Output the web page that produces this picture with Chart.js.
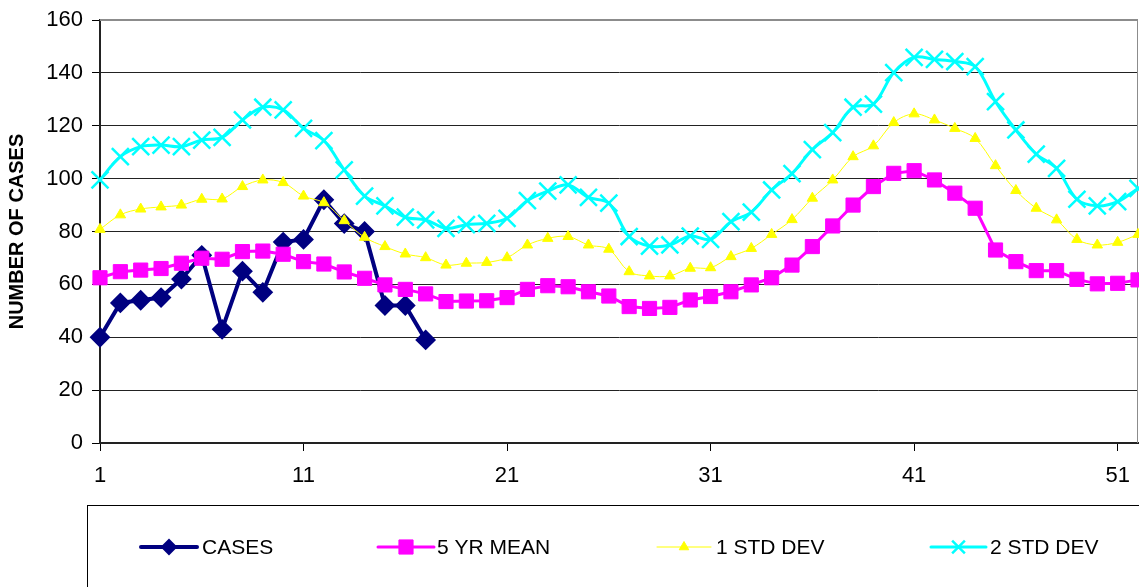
<!DOCTYPE html>
<html><head><meta charset="utf-8">
<script src="https://cdn.jsdelivr.net/npm/chart.js@4"></script>
<style>html,body{margin:0;padding:0;background:#fff;overflow:hidden}canvas{display:block}</style>
</head><body>
<canvas id="c" width="1139" height="587"></canvas>
<script>
// ---- data ----
const weeks = ['1','2','3','4','5','6','7','8','9','10','11','12','13','14','15','16','17','18','19','20',
  '21','22','23','24','25','26','27','28','29','30','31','32','33','34','35','36','37','38','39','40',
  '41','42','43','44','45','46','47','48','49','50','51','52'];
const cases = [40,53,54,55,62,71,43,65,57,76,77,92,83,80,52,52,39];
const mean5 = [62.5,64.8,65.4,66,68,69.9,69.5,72.4,72.6,71.4,68.6,67.7,64.7,62.3,59.8,58.1,56.4,53.5,53.7,53.8,
  55,58.1,59.5,59.1,57.2,55.6,51.6,50.9,51.3,54.1,55.4,57.2,59.8,62.5,67.3,74.3,82.1,90,97,102,
  103,99.5,94.5,88.8,73,68.6,65.2,65.2,61.9,60.2,60.4,61.7];
const std1 = [80.8,86.3,88.5,89.3,90,92.2,92.3,97,99.5,98.5,93.4,90.9,84.1,77.8,74.3,71.5,70.1,67.3,68,68.3,
  70.1,74.9,77.4,78.1,74.9,73.3,64.8,63.2,63.2,66.1,66.3,70.5,73.6,78.9,84.5,92.6,99.5,108.3,112.4,121.2,
  124.5,122.2,119,115.2,104.9,95.5,88.8,84.4,77,74.9,75.9,78.9];
const std2 = [99.5,108.3,112.1,112.7,112.1,114.6,115.6,122.2,127,126,119,114.4,103.3,93.4,89.7,85.4,84.4,81.2,82.6,83.1,
  85,91.7,95.3,97.6,92.9,90.7,78.1,74.5,74.9,78.3,77,83.7,87.3,95.7,101.9,111,117.4,127,128.2,140.1,
  145.9,145.1,144.3,142.4,129.1,118.4,109.3,103.9,92.2,89.7,91.3,96.3];
const seriesNames = ['CASES','5 YR MEAN','1 STD DEV','2 STD DEV'];
const yMin = 0, yMax = 160, yStep = 20;
const xLabelEvery = 10;
const yTitle = 'NUMBER OF CASES';

const FONT = "'Liberation Sans', Arial, sans-serif";

function drawMarker(ctx, style, r, x, y, bw) {
  if (Chart.helpers && Chart.helpers.drawPoint) {
    Chart.helpers.drawPoint(ctx, {pointStyle: style, radius: r, borderWidth: bw, rotation: 0}, x, y);
    return;
  }
  ctx.beginPath();
  if (style === 'rectRot') { ctx.moveTo(x, y - r); ctx.lineTo(x + r, y); ctx.lineTo(x, y + r); ctx.lineTo(x - r, y); ctx.closePath(); ctx.fill(); }
  else if (style === 'rect') { const s = r * Math.SQRT1_2; ctx.rect(x - s, y - s, 2 * s, 2 * s); ctx.fill(); }
  else if (style === 'triangle') { ctx.moveTo(x, y - r); ctx.lineTo(x + r * 0.866, y + r / 2); ctx.lineTo(x - r * 0.866, y + r / 2); ctx.closePath(); ctx.fill(); }
  else { const s = r * Math.SQRT1_2; ctx.moveTo(x - s, y - s); ctx.lineTo(x + s, y + s); ctx.moveTo(x + s, y - s); ctx.lineTo(x - s, y + s); }
  if (bw > 0) ctx.stroke();
}

const frame = {
  id: 'frame',
  beforeDatasetsDraw(chart) {
    const {ctx, chartArea: a} = chart;
    ctx.save();
    ctx.strokeStyle = '#8c8c8c';
    ctx.lineWidth = 2;
    ctx.beginPath(); ctx.moveTo(a.left, a.top); ctx.lineTo(a.right, a.top); ctx.stroke();
    ctx.lineWidth = 1;
    ctx.beginPath(); ctx.moveTo(a.right - 0.5, a.top); ctx.lineTo(a.right - 0.5, a.bottom); ctx.stroke();
    ctx.restore();
  }
};

const boxLegend = {
  id: 'boxLegend',
  afterDraw(chart) {
    const ctx = chart.ctx;
    ctx.save();
    ctx.strokeStyle = '#000'; ctx.lineWidth = 1;
    ctx.strokeRect(87.5, 505.5, 1200, 200);
    const y = 547;
    const items = [
      {x1: 141, x2: 197, tx: 202, r: 7},
      {x1: 378, x2: 434, tx: 437, r: 10},
      {x1: 657, x2: 711, tx: 716, r: 5.5},
      {x1: 931, x2: 986, tx: 990, r: 9}
    ];
    ctx.font = '21px ' + FONT;
    ctx.textBaseline = 'middle';
    ctx.textAlign = 'left';
    items.forEach((it, i) => {
      const ds = chart.data.datasets[i];
      ctx.strokeStyle = ds.borderColor; ctx.lineWidth = ds.borderWidth; ctx.lineCap = 'round';
      ctx.beginPath(); ctx.moveTo(it.x1, y); ctx.lineTo(it.x2, y); ctx.stroke();
      ctx.lineCap = 'butt';
      ctx.fillStyle = ds.pointBackgroundColor; ctx.strokeStyle = ds.pointBorderColor; ctx.lineWidth = ds.pointBorderWidth;
      drawMarker(ctx, ds.pointStyle, it.r, (it.x1 + it.x2) / 2, y, ds.pointBorderWidth);
      ctx.fillStyle = '#000';
      ctx.fillText(seriesNames[i], it.tx, y + 1);
    });
    ctx.restore();
  }
};

new Chart(document.getElementById('c'), {
  type: 'line',
  data: {
    labels: weeks,
    datasets: [
      {label: seriesNames[0], data: cases, order: 4, borderColor: '#000080', borderWidth: 4, tension: 0,
       pointStyle: 'rectRot', pointRadius: 9, pointBorderWidth: 2, pointBackgroundColor: '#000080', pointBorderColor: '#000080', clip: false},
      {label: seriesNames[1], data: mean5, order: 3, borderColor: '#FF00FF', borderWidth: 3, tension: 0,
       pointStyle: 'rect', pointRadius: 10, pointBorderWidth: 1, pointBackgroundColor: '#FF00FF', pointBorderColor: '#FF00FF', clip: false},
      {label: seriesNames[2], data: std1, order: 2, borderColor: '#FFFF00', borderWidth: 1, tension: 0.35,
       pointStyle: 'triangle', pointRadius: 6, pointBorderWidth: 1, pointBackgroundColor: '#FFFF00', pointBorderColor: '#FFFF00', clip: false},
      {label: seriesNames[3], data: std2, order: 1, borderColor: '#00FFFF', borderWidth: 3, tension: 0.35,
       pointStyle: 'crossRot', pointRadius: 12, pointBorderWidth: 2.5, pointBackgroundColor: '#00FFFF', pointBorderColor: '#00FFFF', clip: false}
    ]
  },
  options: {
    responsive: false,
    devicePixelRatio: 1,
    animation: false,
    events: [],
    layout: {autoPadding: false, padding: {top: 20, right: 1, bottom: 0, left: 0}},
    plugins: {legend: {display: false}, tooltip: {enabled: false}},
    scales: {
      x: {
        type: 'category',
        offset: false,
        grid: {drawOnChartArea: false, drawTicks: true, tickLength: 8, color: '#000', tickWidth: 1},
        border: {display: true, color: '#222', width: 2},
        ticks: {
          autoSkip: false, maxRotation: 0, minRotation: 0, padding: 12, color: '#000',
          font: {family: FONT, size: 22},
          callback: (v, i) => (i % xLabelEvery === 0 ? weeks[i] : null)
        },
        afterFit(s) { s.height = 144; s.paddingLeft = 0; s.paddingRight = 0; }
      },
      y: {
        min: yMin, max: yMax,
        grid: {
          color: c => (c.tick && c.tick.value === yMax ? 'rgba(0,0,0,0)' : '#222'),
          tickColor: '#000', tickLength: 8, lineWidth: 1
        },
        border: {display: true, color: '#222', width: 2},
        ticks: {stepSize: yStep, padding: 9, color: '#000', font: {family: FONT, size: 22}},
        title: {display: true, text: yTitle, color: '#000', font: {family: FONT, size: 20, weight: 'bold'}, padding: {top: 5, bottom: 0}},
        afterFit(s) { s.width = 100; s.paddingTop = 0; s.paddingBottom = 0; }
      }
    }
  },
  plugins: [frame, boxLegend]
});
</script>
</body></html>
